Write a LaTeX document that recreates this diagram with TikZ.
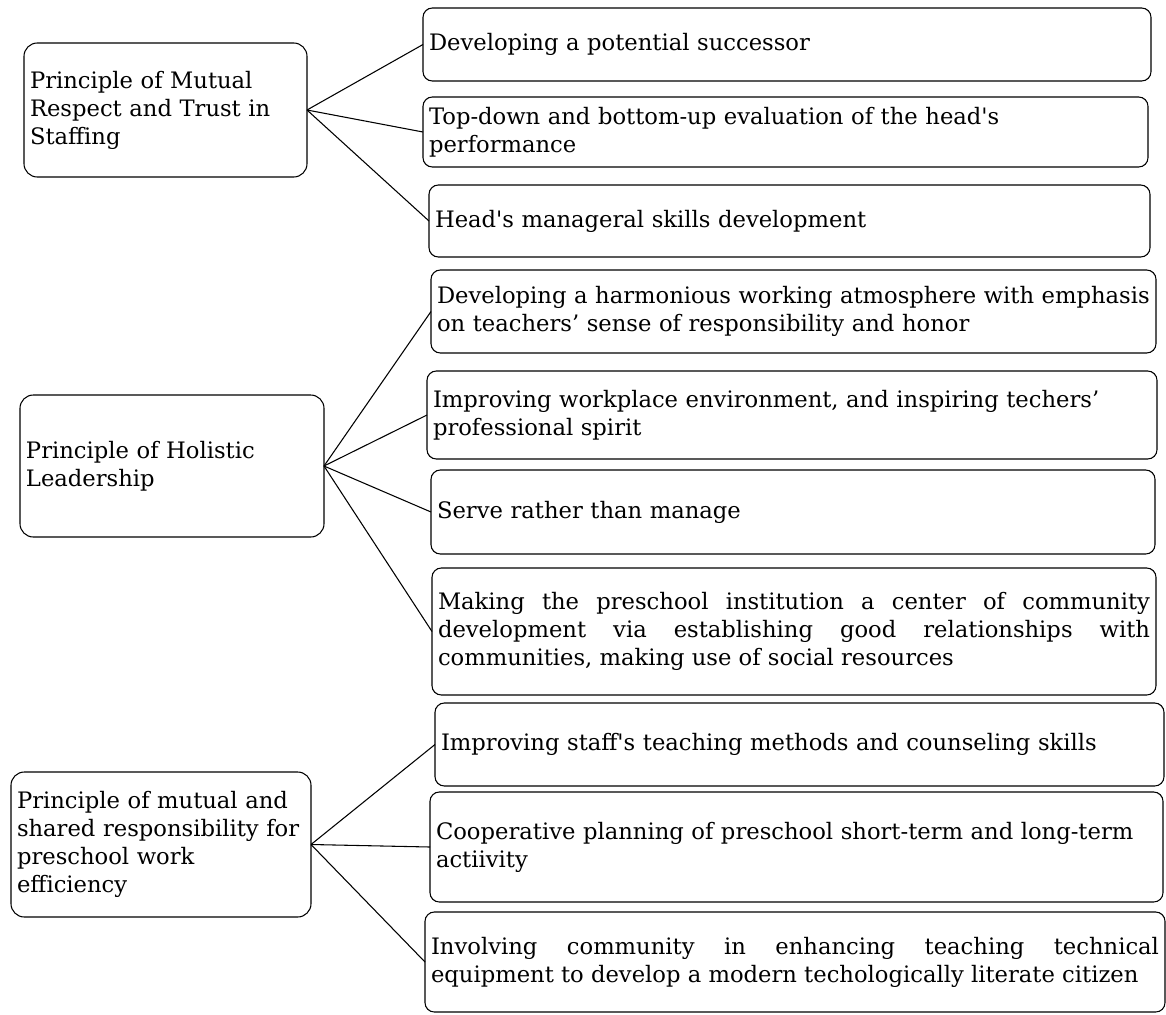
\documentclass[tikz,border=0pt]{standalone}
\usepackage{fontspec}
\setmainfont{DejaVu Serif}[Ligatures=TeXOff]
\usepackage{tikz}

\tikzset{
    box/.style={draw, rounded corners=7pt, line width=0.8pt, outer sep=0pt,
        inner xsep=4.5pt, inner ysep=0pt, align=left,
        font=\fontsize{17}{21}\selectfont},
    principle/.style={box, rounded corners=10pt},
    link/.style={line width=0.8pt},
}

\begin{document}
\begin{tikzpicture}[x=0.75pt, y=-0.75pt]
        \useasboundingbox (0,0) rectangle (1166,1014);

        % Principles
        \node[principle, text width=203.25pt, minimum height=100.5pt] (staff) at (165.5,110)
            {Principle of Mutual\\Respect and Trust in\\Staffing};
        \node[principle, text width=219pt, minimum height=106.5pt] (lead) at (172,466)
            {Principle of Holistic\\Leadership};
        \node[principle, text width=216pt, minimum height=108.75pt] (resp) at (161,844.5)
            {Principle of mutual and\\shared responsibility for\\preschool work\\efficiency};

        % Staffing items
        \node[box, text width=537pt, minimum height=54.75pt] (succ) at (787,44.5)
            {Developing a potential successor};
        \node[box, text width=534.75pt, minimum height=52.5pt] (eval) at (785.5,132)
            {Top-down and bottom-up evaluation of the head's\\performance};
        \node[box, text width=531.75pt, minimum height=54pt] (skill) at (789.5,221)
            {Head's manageral skills development};

        % Leadership items
        \node[box, text width=534.75pt, minimum height=62.25pt] (harm) at (793.5,311.5)
            {Developing a harmonious working atmosphere with emphasis\\on teachers’ sense of responsibility and honor};
        \node[box, text width=538.5pt, minimum height=66pt] (work) at (792,415)
            {Improving workplace environment, and inspiring techers’\\professional spirit};
        \node[box, text width=534pt, minimum height=63pt] (serve) at (793,512)
            {Serve rather than manage};
        \node[box, align=justify, text width=534pt, minimum height=95.25pt] (comm) at (794,631.5)
            {Making the preschool institution a center of community\linebreak
            development via establishing good relationships with\linebreak
            communities, making use of social resources};

        % Responsibility items
        \node[box, text width=537.75pt, minimum height=62.25pt] (teach) at (799.5,744.5)
            {Improving staff's teaching methods and counseling skills};
        \node[box, text width=540.75pt, minimum height=82.5pt] (plan) at (796.5,847)
            {Cooperative planning of preschool short-term and long-term\\actiivity};
        \node[box, align=justify, text width=546pt, minimum height=75pt] (equip) at (795,962)
            {Involving community in enhancing teaching technical\linebreak
            equipment to develop a modern techologically literate citizen};

        % Connectors
        \foreach \t in {succ, eval, skill}
            \draw[link] (staff.east) -- (\t.west);
        \foreach \t in {harm, work, serve, comm}
            \draw[link] (lead.east) -- (\t.west);
        \foreach \t in {teach, plan, equip}
            \draw[link] (resp.east) -- (\t.west);
\end{tikzpicture}
\end{document}
